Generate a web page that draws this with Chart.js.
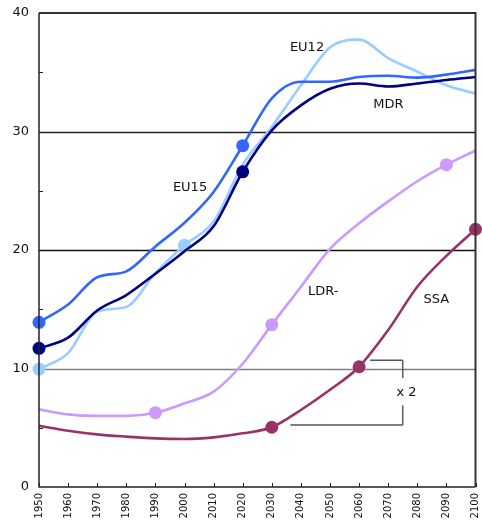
<!DOCTYPE html>
<html><head><meta charset="utf-8">
<script src="https://cdn.jsdelivr.net/npm/chart.js@4/dist/chart.umd.min.js"></script>
<style>html,body{margin:0;padding:0;background:#fff;}#wrap{width:482px;height:520px;}</style>
</head><body><div id="wrap"><canvas id="c" width="482" height="520"></canvas></div>
<script>
const years = [1950,1960,1970,1980,1990,2000,2010,2020,2030,2040,2050,2060,2070,2080,2090,2100];
const eu15 = [13.9,15.4,17.7,18.2,20.3,22.3,24.9,28.8,32.8,34.2,34.2,34.6,34.7,34.55,34.8,35.2];
const mdr  = [11.7,12.6,14.9,16.2,18.0,19.9,22.0,26.6,30.1,32.2,33.6,34.05,33.8,34.05,34.35,34.6];
const eu12 = [9.95,11.3,14.8,15.2,18.05,20.4,22.4,27.2,30.4,33.9,37.1,37.75,36.2,35.05,33.9,33.2];
const ldr  = [6.55,6.13,6.0,6.0,6.27,7.06,8.05,10.4,13.7,16.9,20.1,22.25,24.1,25.8,27.2,28.4];
const ssa  = [5.17,4.75,4.44,4.25,4.1,4.05,4.19,4.53,5.04,6.5,8.2,10.15,13.25,16.9,19.5,21.75];
const markerYears = {
  EU15:[1950,2020], MDR:[1950,2020], EU12:[1950,2000], LDR:[1990,2030,2090], SSA:[2030,2060,2100]
};
const seriesLabels = [
  {text:'EU15', x:2001.9, y:25.3},
  {text:'EU12', x:2042.1, y:37.05},
  {text:'MDR',  x:2070.1, y:32.3},
  {text:'LDR-', x:2047.7, y:16.5},
  {text:'SSA',  x:2086.5, y:15.8},
  {text:'x 2',  x:2076.3, y:8.0}
];
// bracket for "x 2": [x1,y1,x2,y2] in data units
const bracket = [
  [2063.8,10.7,2075,10.7],
  [2075,10.7,2075,9.2],
  [2075,6.9,2075,5.23],
  [2036.4,5.23,2075,5.23]
];
const yTicks = [0,10,20,30,40];
const yMinor = [5,15,25,35];

function pts(arr){ return years.map((y,i)=>({x:y,y:arr[i]})); }
function radii(key){ return years.map(y=>markerYears[key].includes(y)?6.5:0); }
function ds(label,key,arr,color){
  return {label, data:pts(arr), borderColor:color, backgroundColor:color, borderWidth:2.6,
    pointRadius:radii(key), pointBorderWidth:0, pointHoverRadius:radii(key),
    cubicInterpolationMode:'monotone', fill:false, clip:8};
}

const decor = {
  id:'decor',
  beforeDatasetsDraw(chart){
    const {ctx, chartArea:a, scales:{x,y}} = chart;
    ctx.save();
    [[10,'#808080'],[20,'#111'],[30,'#222']].forEach(([v,c])=>{
      const py = Math.round(y.getPixelForValue(v))+0.5;
      ctx.strokeStyle=c; ctx.lineWidth=1.3;
      ctx.beginPath(); ctx.moveTo(a.left,py); ctx.lineTo(a.right,py); ctx.stroke();
    });
    ctx.strokeStyle='#555'; ctx.lineWidth=1.4;
    bracket.forEach(([x1,y1,x2,y2])=>{
      ctx.beginPath();
      ctx.moveTo(x.getPixelForValue(x1), y.getPixelForValue(y1));
      ctx.lineTo(x.getPixelForValue(x2), y.getPixelForValue(y2));
      ctx.stroke();
    });
    ctx.restore();
  },
  afterDatasetsDraw(chart){
    const {ctx, chartArea:a, scales:{x,y}} = chart;
    ctx.save();
    ctx.strokeStyle='#333'; ctx.lineWidth=2;
    ctx.beginPath();
    ctx.moveTo(a.left, a.top); ctx.lineTo(a.right, a.top); ctx.lineTo(a.right, a.bottom);
    ctx.stroke();
    ctx.strokeStyle='#222'; ctx.lineWidth=1.5;
    ctx.beginPath(); ctx.moveTo(a.left,a.top); ctx.lineTo(a.left,a.bottom); ctx.lineTo(a.right,a.bottom); ctx.stroke();
    ctx.lineWidth=1;
    yMinor.forEach(v=>{
      const py=Math.round(y.getPixelForValue(v))+0.5;
      ctx.beginPath(); ctx.moveTo(a.left,py); ctx.lineTo(a.left+4,py); ctx.stroke();
    });
    years.forEach(v=>{
      const px=Math.round(x.getPixelForValue(v))+0.5;
      ctx.beginPath(); ctx.moveTo(px,a.bottom); ctx.lineTo(px,a.bottom-4); ctx.stroke();
    });
    ctx.fillStyle='#111'; ctx.font='13px "DejaVu Sans", Verdana, sans-serif';
    ctx.textAlign='center'; ctx.textBaseline='middle';
    seriesLabels.forEach(l=>ctx.fillText(l.text, x.getPixelForValue(l.x), y.getPixelForValue(l.y)));
    ctx.restore();
  }
};

new Chart(document.getElementById('c'), {
  type:'line',
  data:{datasets:[
    ds('EU15','EU15',eu15,'#3366ff'),
    ds('MDR','MDR',mdr,'#000080'),
    ds('EU12','EU12',eu12,'#99ccff'),
    ds('LDR-','LDR',ldr,'#cc99ff'),
    ds('SSA','SSA',ssa,'#993366')
  ]},
  options:{
    responsive:false, animation:false, events:[],
    layout:{padding:{top:13,right:3,left:0,bottom:0}},
    plugins:{legend:{display:false}, tooltip:{enabled:false}},
    scales:{
      x:{type:'linear', min:1950, max:2100,
        afterBuildTicks(s){ s.ticks = years.map(v=>({value:v})); },
        afterFit(s){ s.height = 33; s.paddingLeft = 0; s.paddingRight = 0; },
        grid:{display:false, drawTicks:false}, border:{display:false},
        ticks:{autoSkip:false, maxRotation:90, minRotation:90, padding:6, color:'#111',
          font:{family:'"DejaVu Sans", Verdana, sans-serif', size:10}, callback:v=>String(v)}},
      y:{min:0, max:40,
        afterBuildTicks(s){ s.ticks = yTicks.map(v=>({value:v})); },
        afterFit(s){ s.width = 39; s.paddingTop = 0; s.paddingBottom = 0; },
        grid:{display:false, drawTicks:false}, border:{display:false},
        ticks:{padding:10, color:'#111', font:{family:'"DejaVu Sans", Verdana, sans-serif', size:13}}}
    }
  },
  plugins:[decor]
});
</script></body></html>
